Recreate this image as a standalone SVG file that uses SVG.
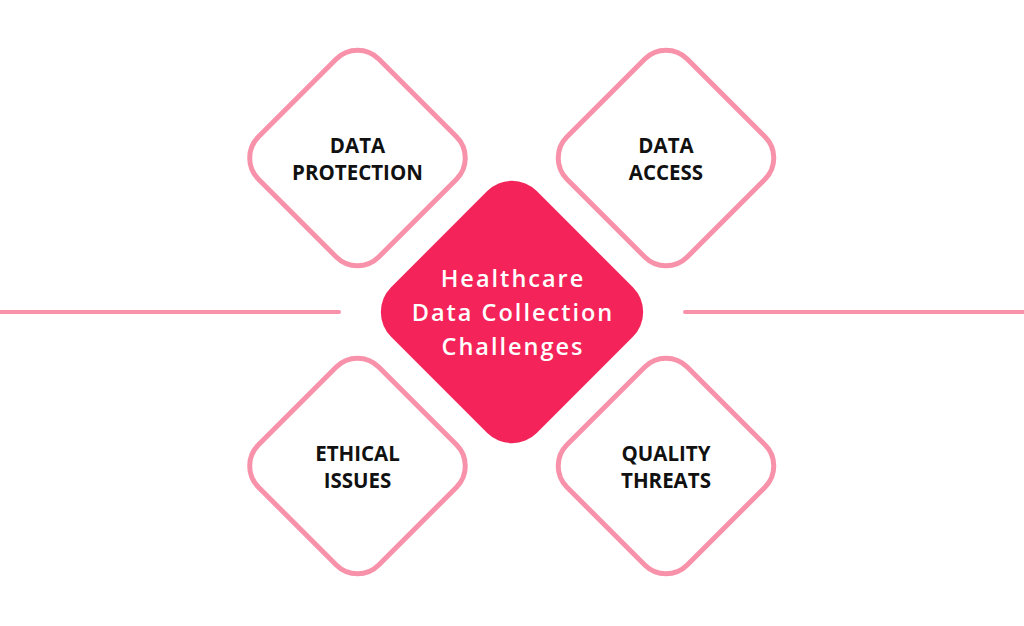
<svg xmlns="http://www.w3.org/2000/svg" width="1024" height="626" viewBox="0 0 1024 626">
<style>
.out{fill:#fff;stroke:#F792AA;stroke-width:5}
.lbl{font-family:"Open Sans","Liberation Sans",sans-serif;font-weight:700;font-size:20.5px;fill:#111;text-anchor:middle}
.ctr{font-family:"Open Sans","Liberation Sans",sans-serif;font-weight:600;font-size:23.5px;fill:#fff;text-anchor:middle;letter-spacing:2px}
.ln{stroke:#F792AA;stroke-width:4;stroke-linecap:round}
</style>
<rect width="1024" height="626" fill="#fff"/>
<g id="connectors">
<line class="ln" x1="0" y1="312" x2="339" y2="312"/>
<line class="ln" x1="685" y1="312" x2="1024" y2="312"/>
</g>
<g id="data-protection">
<rect class="out" x="-85" y="-85" width="170" height="170" rx="30" transform="translate(357.5,158) rotate(45)"/>
<text class="lbl" x="357.5" y="153">DATA</text>
<text class="lbl" x="357.5" y="180">PROTECTION</text>
</g>
<g id="data-access">
<rect class="out" x="-85" y="-85" width="170" height="170" rx="30" transform="translate(666,158) rotate(45)"/>
<text class="lbl" x="666" y="153">DATA</text>
<text class="lbl" x="666" y="180">ACCESS</text>
</g>
<g id="ethical-issues">
<rect class="out" x="-85" y="-85" width="170" height="170" rx="30" transform="translate(357.5,466) rotate(45)"/>
<text class="lbl" x="357.5" y="461">ETHICAL</text>
<text class="lbl" x="357.5" y="488">ISSUES</text>
</g>
<g id="quality-threats">
<rect class="out" x="-85" y="-85" width="170" height="170" rx="30" transform="translate(666,466) rotate(45)"/>
<text class="lbl" x="666" y="461">QUALITY</text>
<text class="lbl" x="666" y="488">THREATS</text>
</g>
<g id="center">
<rect x="-103" y="-103" width="206" height="206" rx="35" fill="#F42359" transform="translate(512,312) rotate(45)"/>
<text class="ctr" x="513" y="287">Healthcare</text>
<text class="ctr" x="513" y="321">Data Collection</text>
<text class="ctr" x="513" y="355">Challenges</text>
</g>
</svg>
